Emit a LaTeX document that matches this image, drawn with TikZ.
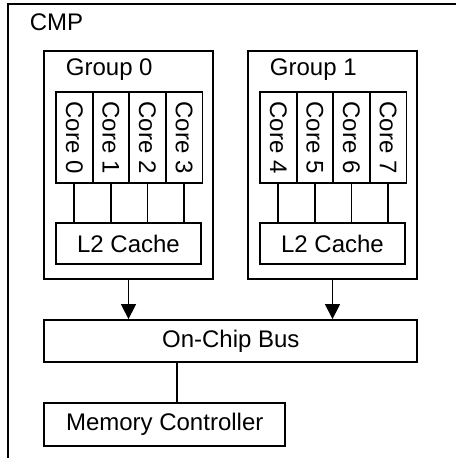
\documentclass[tikz,border=0pt]{standalone}
\usepackage{fontspec}
\setmainfont{Liberation Sans}
\usepackage{graphicx}
\usetikzlibrary{arrows.meta}

\begin{document}
\begin{tikzpicture}[x=0.5pt, y=-0.5pt, line width=0.9pt,
    box/.style={draw, rectangle, inner sep=0pt, font=\fontsize{12}{14}\selectfont},
    core/.style={box, minimum width=18.3pt, minimum height=45.35pt},
    cache/.style={box, minimum width=72.5pt, minimum height=20.8pt},
    group/.style={box, minimum width=84.2pt, minimum height=114.15pt},
    title/.style={inner sep=0pt, anchor=base west, font=\fontsize{12}{14}\selectfont},
    busarrow/.style={-{Triangle[width=7.4pt,length=7.5pt]}}
  ]

  \useasboundingbox (0,0) rectangle (455,458);

  % CMP frame
  \draw[line width=1.2pt] (8,470) -- (8,4) -- (470,4);
  \node[title] (cmp) at (29,30.3) {CMP};

  % Group 0
  \begin{scope}
      \node[group] (g0) at (128.5,165.2) {};
      \node[title] (g0t) at (65,75.5) {Group 0};
      \node[core] (c0) at (74.3,137.5) {\rotatebox{-90}{Core 0}};
      \node[core] (c1) at (110.9,137.5) {\rotatebox{-90}{Core 1}};
      \node[core] (c2) at (147.5,137.5) {\rotatebox{-90}{Core 2}};
      \node[core] (c3) at (184.1,137.5) {\rotatebox{-90}{Core 3}};
      \node[cache] (l2a) at (128.5,243.5) {L2 Cache};
      \draw (c0.south) -- (c0.south |- l2a.north);
      \draw (c1.south) -- (c1.south |- l2a.north);
      \draw (c2.south) -- (c2.south |- l2a.north);
      \draw (c3.south) -- (c3.south |- l2a.north);
  \end{scope}

  % Group 1
  \begin{scope}[xshift=102]
      \node[group] (g1) at (128.5,165.2) {};
      \node[title] (g1t) at (65,75.5) {Group 1};
      \node[core] (c4) at (74.3,137.5) {\rotatebox{-90}{Core 4}};
      \node[core] (c5) at (110.9,137.5) {\rotatebox{-90}{Core 5}};
      \node[core] (c6) at (147.5,137.5) {\rotatebox{-90}{Core 6}};
      \node[core] (c7) at (184.1,137.5) {\rotatebox{-90}{Core 7}};
      \node[cache] (l2b) at (128.5,243.5) {L2 Cache};
      \draw (c4.south) -- (c4.south |- l2b.north);
      \draw (c5.south) -- (c5.south |- l2b.north);
      \draw (c6.south) -- (c6.south |- l2b.north);
      \draw (c7.south) -- (c7.south |- l2b.north);
  \end{scope}

  % bus and memory controller
  \node[box, minimum width=186.5pt, minimum height=21.15pt] (bus) at (230.8,341.2) {On-Chip Bus};
  \node[box, minimum width=120.35pt, minimum height=21.2pt] (mc) at (164.7,424.5) {Memory Controller};

  \draw[busarrow] (g0.south) -- (g0.south |- bus.north);
  \draw[busarrow] (g1.south) -- (g1.south |- bus.north);
  \draw ([xshift=6pt]mc.north) -- ([xshift=6pt]mc.north |- bus.south);

\end{tikzpicture}
\end{document}
